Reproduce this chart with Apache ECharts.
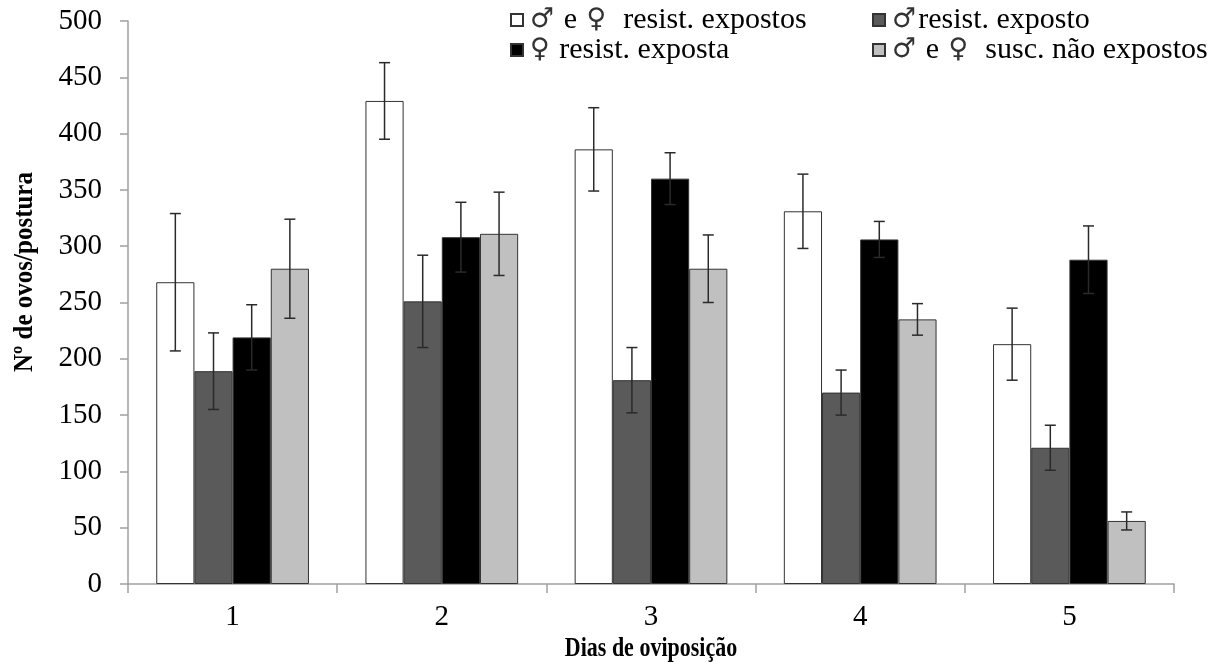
<!DOCTYPE html>
<html>
<head>
<meta charset="utf-8">
<script src="https://cdn.jsdelivr.net/npm/echarts@6/dist/echarts.min.js"></script>
<style>
  html, body { margin: 0; padding: 0; background: #fff; }
  #chart { width: 1224px; height: 665px; }
</style>
</head>
<body>
<div id="chart"></div>
<script>
// Egg counts per laying, by day of oviposition, with standard errors
const days = ['1', '2', '3', '4', '5'];

const seriesNames = [
  '♂ e ♀  resist. expostos',
  '♂resist. exposto',
  '♀ resist. exposta',
  '♂ e ♀  susc. não expostos'
];

const resistExpostos  = [268, 429, 386, 331, 213];
const machoExposto    = [189, 251, 181, 170, 121];
const femeaExposta    = [219, 308, 360, 306, 288];
const suscNaoExpostos = [280, 311, 280, 235, 56];

const errResistExpostos  = [61, 34, 37, 33, 32];
const errMachoExposto    = [34, 41, 29, 20, 20];
const errFemeaExposta    = [29, 31, 23, 16, 30];
const errSuscNaoExpostos = [44, 37, 30, 14, 8];

const yTicks = [0, 50, 100, 150, 200, 250, 300, 350, 400, 450, 500];

const values = [resistExpostos, machoExposto, femeaExposta, suscNaoExpostos];
const errors = [errResistExpostos, errMachoExposto, errFemeaExposta, errSuscNaoExpostos];
const fills = ['#ffffff', '#5a5a5a', '#000000', '#c0c0c0'];

const FONT = '"Liberation Serif", "Times New Roman", serif';
const SYMBOL_FONT = '"DejaVu Sans", sans-serif';
const CATEGORY_GAP = 0.27;
const nSeries = values.length;

const chart = echarts.init(document.getElementById('chart'), null, { renderer: 'canvas' });

const barSeries = values.map((vals, i) => ({
  name: seriesNames[i],
  type: 'bar',
  data: vals,
  barGap: '0%',
  barCategoryGap: (CATEGORY_GAP * 100) + '%',
  itemStyle: { color: fills[i], borderColor: '#333333', borderWidth: 1 },
  emphasis: { disabled: true },
  z: 2
}));

const errorSeries = values.map((vals, i) => ({
  name: 'err' + i,
  type: 'custom',
  data: vals.map((v, k) => [k, v, errors[i][k]]),
  encode: { x: 0, y: 1 },
  z: 5,
  silent: true,
  renderItem: function (params, api) {
    const k = api.value(0);
    const v = api.value(1);
    const e = api.value(2);
    const band = api.size([1, 0])[0];
    const bw = band * (1 - CATEGORY_GAP) / nSeries;
    const center = api.coord([k, v]);
    const x = center[0] - band * (1 - CATEGORY_GAP) / 2 + (i + 0.5) * bw;
    const yHi = api.coord([k, v + e])[1];
    const yLo = api.coord([k, v - e])[1];
    const cap = 5.5;
    const style = { stroke: '#2a2a2a', lineWidth: 1.5, fill: null };
    return {
      type: 'group',
      children: [
        { type: 'line', shape: { x1: x, y1: yHi, x2: x, y2: yLo }, style: style },
        { type: 'line', shape: { x1: x - cap, y1: yHi, x2: x + cap, y2: yHi }, style: style },
        { type: 'line', shape: { x1: x - cap, y1: yLo, x2: x + cap, y2: yLo }, style: style }
      ]
    };
  }
}));

// Sex symbols are set in a larger symbol font inside the legend labels
function legendLabel(name) {
  return name.replace(/♂/g, '{s|♂}').replace(/♀/g, '{s|♀}');
}

// One legend per entry so the two columns line up
const legendPos = [
  { left: 510, top: 5 },
  { left: 872, top: 5 },
  { left: 510, top: 35 },
  { left: 872, top: 35 }
];
const legends = seriesNames.map((name, i) => ({
  data: [name],
  left: legendPos[i].left,
  top: legendPos[i].top,
  padding: 0,
  orient: 'horizontal',
  icon: 'rect',
  itemWidth: 12,
  itemHeight: 12,
  itemGap: 4,
  selectedMode: false,
  formatter: legendLabel,
  textStyle: {
    fontFamily: FONT, fontSize: 30, color: '#000',
    rich: {
      s: { fontFamily: SYMBOL_FONT, fontSize: 27, color: '#333', padding: [0, 2, 0, 2] }
    }
  }
}));

chart.setOption({
  animation: false,
  backgroundColor: '#ffffff',
  legend: legends,
  grid: { left: 128, right: 50, top: 21, bottom: 81, containLabel: false },
  xAxis: {
    type: 'category',
    data: days,
    axisLine: { lineStyle: { color: '#a0a0a0', width: 1.5 } },
    axisTick: { show: true, length: 9, lineStyle: { color: '#a0a0a0', width: 1.5 } },
    axisLabel: { fontFamily: FONT, fontSize: 29, color: '#000', margin: 19 },
    splitLine: { show: false }
  },
  yAxis: {
    type: 'value',
    min: yTicks[0],
    max: yTicks[yTicks.length - 1],
    interval: yTicks[1] - yTicks[0],
    axisLine: { show: true, lineStyle: { color: '#a0a0a0', width: 1.5 } },
    axisTick: { show: true, length: 8, lineStyle: { color: '#a0a0a0', width: 1.5 } },
    axisLabel: { fontFamily: FONT, fontSize: 29, color: '#000', margin: 26 },
    splitLine: { show: false }
  },
  // Axis titles, drawn slightly tall and narrow
  graphic: [{
    type: 'text',
    x: 25,
    y: 272,
    rotation: Math.PI / 2,
    scaleY: 1.1,
    style: {
      text: 'Nº de ovos/postura',
      fontFamily: FONT,
      fontSize: 25,
      fontWeight: 'bold',
      fill: '#000',
      align: 'center',
      verticalAlign: 'middle'
    }
  }, {
    type: 'text',
    x: 651,
    y: 649,
    scaleY: 1.2,
    style: {
      text: 'Dias de oviposição',
      fontFamily: FONT,
      fontSize: 22,
      fontWeight: 'bold',
      fill: '#000',
      align: 'center',
      verticalAlign: 'middle'
    }
  }],
  series: barSeries.concat(errorSeries)
});
</script>
</body>
</html>
